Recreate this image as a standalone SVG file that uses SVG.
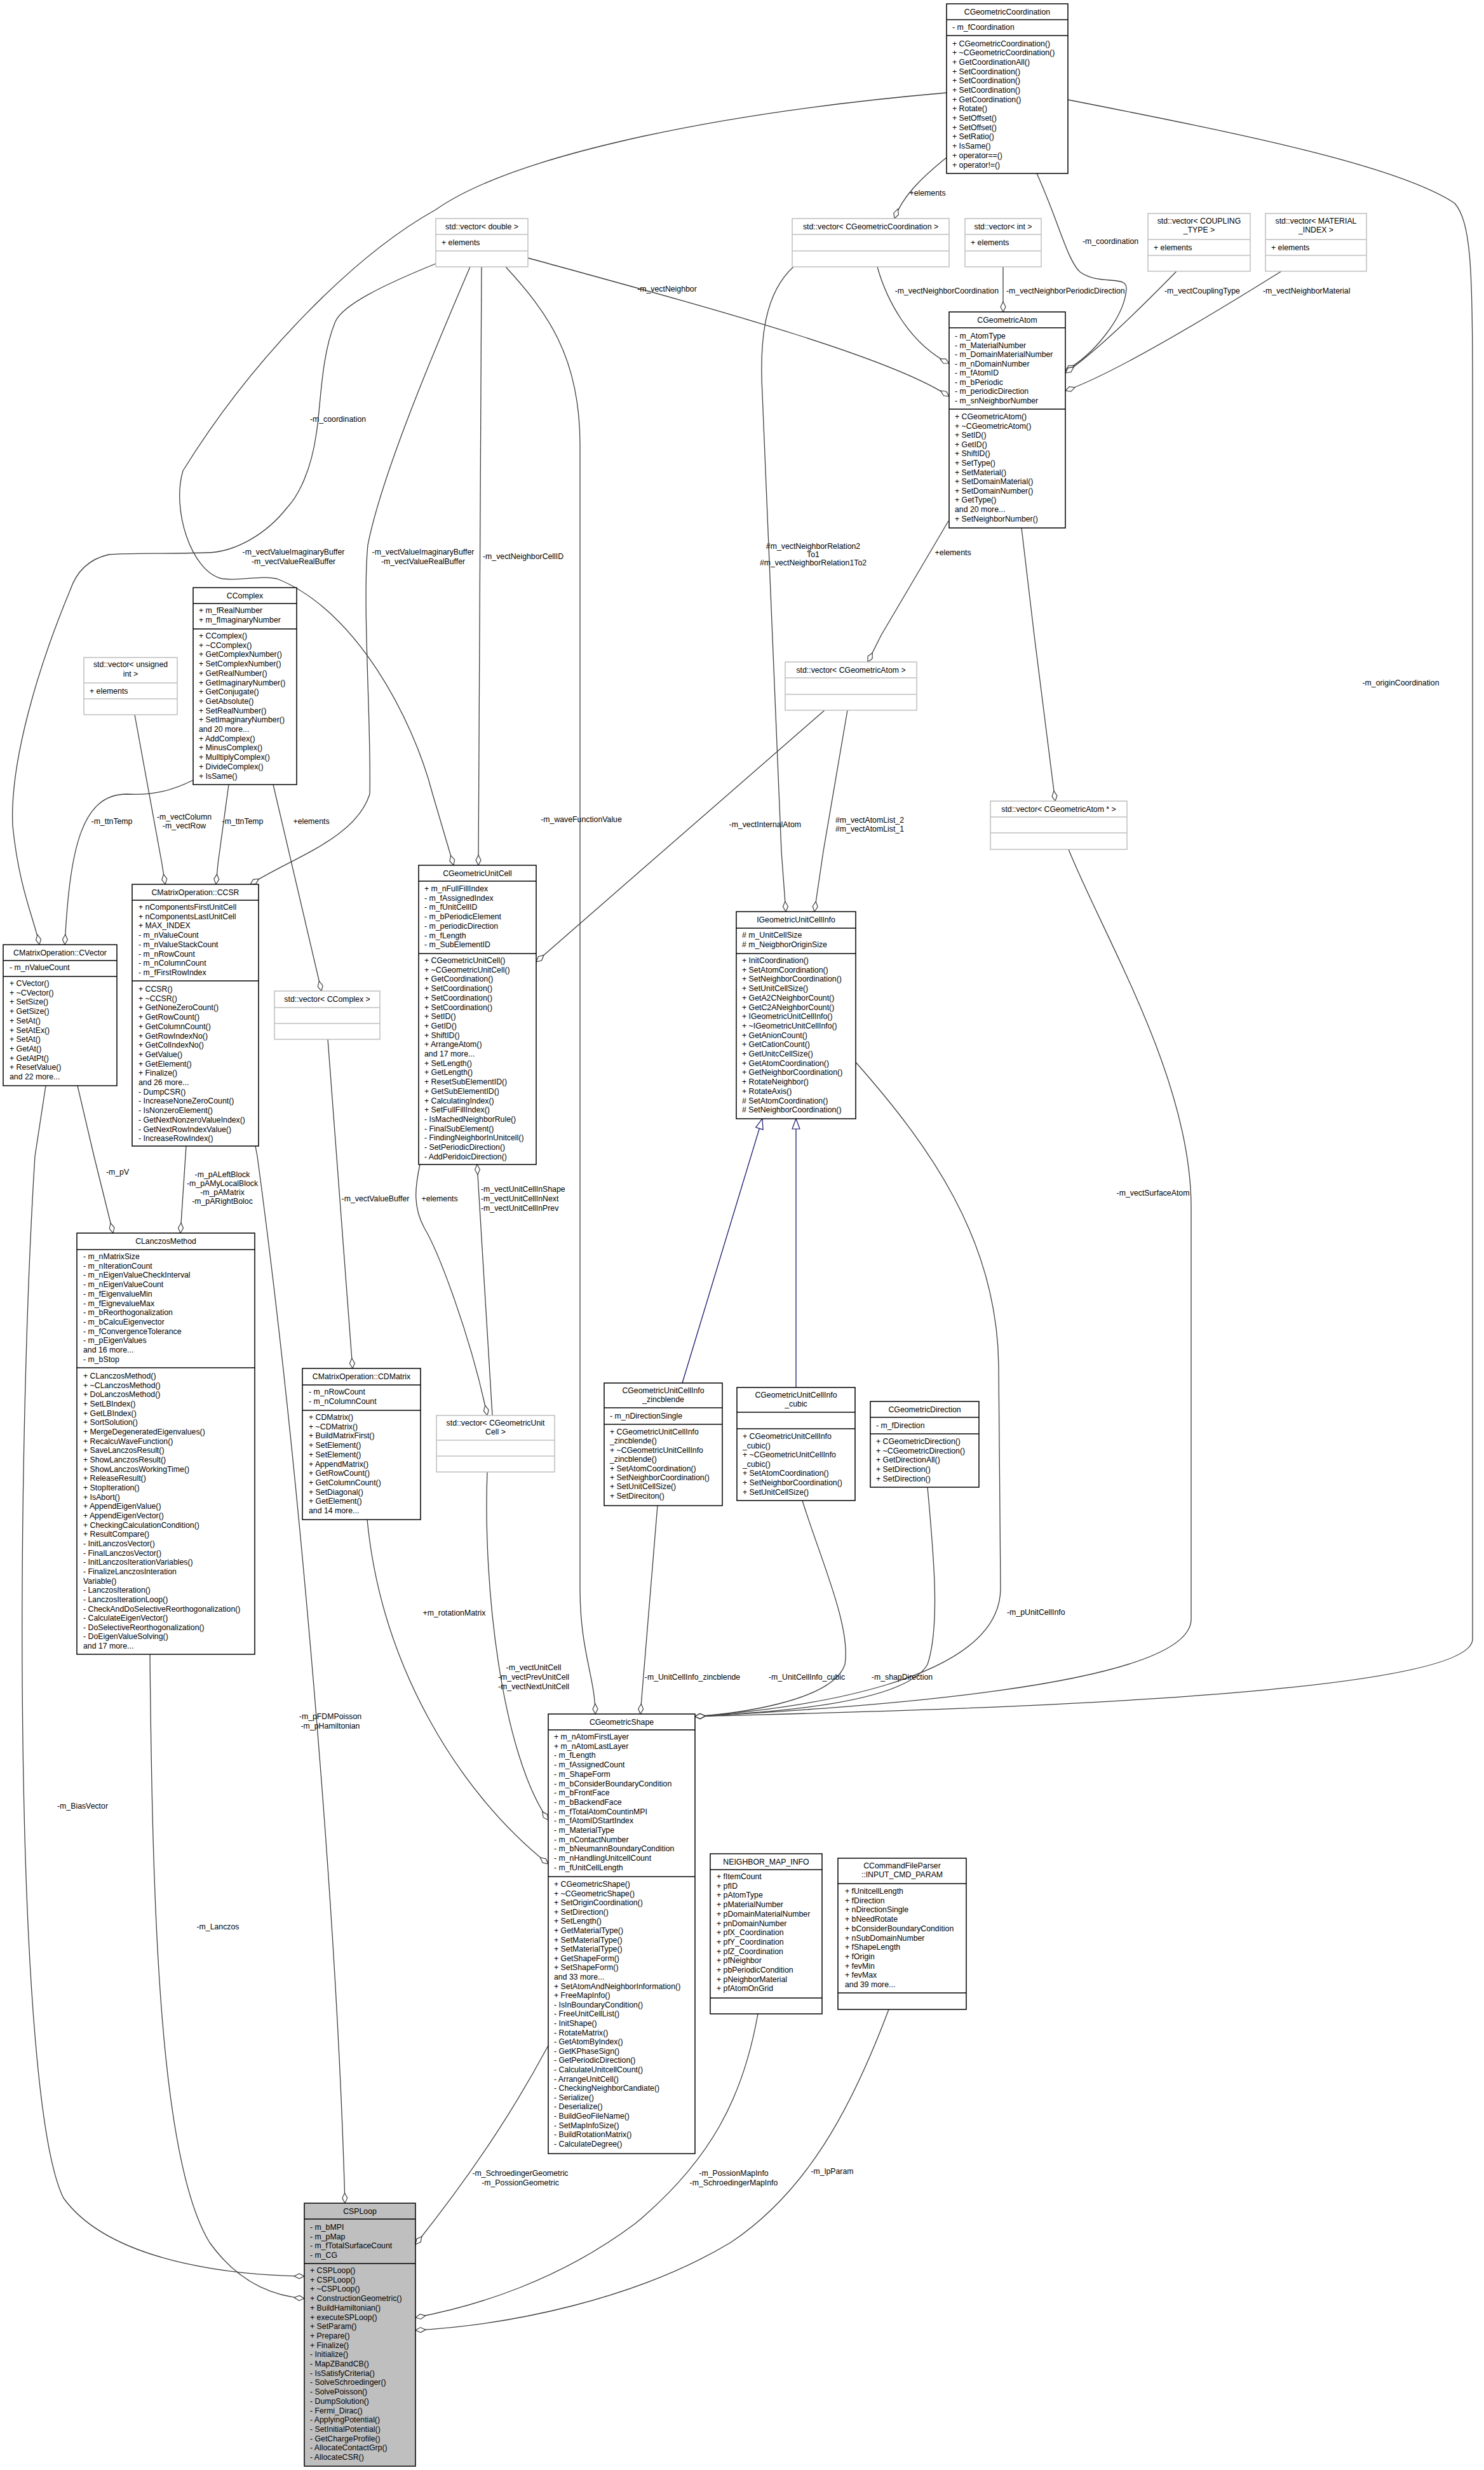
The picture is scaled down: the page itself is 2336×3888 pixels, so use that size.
<svg xmlns="http://www.w3.org/2000/svg" width="2336" height="3888" viewBox="0 0 2336 3888">
<style>
text{font-family:"Liberation Sans",Arial,sans-serif;font-size:12.3px;fill:#000}
.c{text-anchor:middle}
.m{text-anchor:middle}
.e{text-anchor:end}
.b{fill:#fff;stroke:#000;stroke-width:1.5}
.g{fill:#fff;stroke:#bfbfbf;stroke-width:1.5}
.s{fill:#bfbfbf;stroke:#000;stroke-width:1.5}
.k{stroke:#000;stroke-width:1.5}
.kg{stroke:#bfbfbf;stroke-width:1.5}
#edges path{fill:none;stroke:#404040;stroke-width:1.3}
#edges path.d{marker-end:url(#dia)}
#edges path.i{stroke:#191970;marker-end:url(#tri)}
</style>
<defs>
<marker id="dia" markerUnits="userSpaceOnUse" markerWidth="20" markerHeight="12" viewBox="0 0 20 12" refX="17" refY="6" orient="auto"><path d="M1,6 L9,2 L17,6 L9,10 Z" fill="#fff" stroke="#404040" stroke-width="1.2"/></marker>
<marker id="tri" markerUnits="userSpaceOnUse" markerWidth="20" markerHeight="14" viewBox="0 0 20 14" refX="17" refY="7" orient="auto"><path d="M1,1 L17,7 L1,13 Z" fill="#fff" stroke="#191970" stroke-width="1.2"/></marker>
</defs>
<rect width="2336" height="3888" fill="#fff"/>
<g id="edges">
<path class="d" d="M1632,273 C1665,345 1680,410 1700,428 C1730,450 1775,432 1773,455 C1770,500 1720,560 1677,583"/>
<path class="d" d="M1579,420 L1579,491"/>
<path class="d" d="M1852,427 C1800,480 1730,550 1677,587"/>
<path class="d" d="M2017,427 C1900,500 1750,590 1677,615"/>
<path class="d" d="M1381,420 C1395,470 1430,540 1494,572"/>
<path class="d" d="M831,406 C1100,480 1400,560 1494,624"/>
<path class="d" d="M1490,248 C1450,280 1420,310 1408,344"/>
<path class="d" d="M1490,146 C1100,180 800,250 686,330 C560,400 400,560 288,741 C270,800 300,900 350,911 C380,915 410,905 436,911 C560,960 650,1130 681,1250 L714,1362"/>
<path class="d" d="M686,415 C600,450 540,480 528,506 C505,560 505,640 498,682 C490,740 470,780 452,799 C420,840 370,870 324,870 C260,872 200,870 171,873 C140,880 120,900 110,930 C60,1050 15,1200 20,1300 C30,1400 55,1450 62,1487"/>
<path class="d" d="M740,420 C680,560 600,750 579,858 C570,950 585,1150 582,1250 C560,1320 460,1350 394,1392"/>
<path class="d" d="M758,420 L753,1362"/>
<path class="d" d="M796,420 C860,490 913,560 913,700 L913,2500 C913,2600 937,2640 937,2698"/>
<path class="d" d="M212,1125 L255,1360 L260,1392"/>
<path class="d" d="M360,1235 L343,1360 L340,1392"/>
<path class="d" d="M304,1228 C270,1245 240,1252 200,1250 C130,1250 110,1330 102,1487"/>
<path class="d" d="M430,1235 L506,1560"/>
<path class="d" d="M516,1636 L555,2154"/>
<path class="d" d="M1249,420 C1205,460 1195,530 1200,620 L1230,1340 L1237,1435"/>
<path class="d" d="M1493,820 L1387,1000 L1366,1042"/>
<path class="d" d="M1608,831 L1628,1000 L1661,1261"/>
<path class="d" d="M1298,1118 L844,1514"/>
<path class="d" d="M1334,1118 L1296,1340 L1282,1435"/>
<path class="d" d="M661,1833 C653,1870 650,1900 668,1933 C690,1970 740,2100 767,2228"/>
<path class="d" d="M775,2228 L751,1833"/>
<path class="i" d="M1074,2177 L1200,1761"/>
<path class="i" d="M1253,2184 L1253,1761"/>
<path class="d" d="M1347,1672 C1460,1800 1570,1950 1572,2150 L1575,2500 C1575,2650 1250,2690 1094,2702"/>
<path class="d" d="M1682,1337 C1740,1480 1875,1700 1875,1900 L1875,2550 C1870,2660 1300,2690 1094,2702"/>
<path class="d" d="M1681,157 C1950,210 2200,260 2290,320 C2315,350 2318,420 2318,600 L2318,2580 C2318,2680 1300,2695 1094,2702"/>
<path class="d" d="M1263,2362 C1290,2450 1340,2560 1330,2620 C1310,2680 1150,2698 1094,2702"/>
<path class="d" d="M1460,2341 C1470,2450 1480,2560 1460,2620 C1420,2690 1150,2698 1094,2702"/>
<path class="d" d="M1035,2370 L1008,2698"/>
<path class="d" d="M767,2317 C760,2500 790,2760 863,2865"/>
<path class="d" d="M578,2392 C600,2620 720,2820 863,2934"/>
<path class="d" d="M863,3220 C820,3300 760,3400 654,3533"/>
<path class="d" d="M1193,3170 C1170,3300 1120,3400 1000,3500 C880,3590 750,3630 654,3648"/>
<path class="d" d="M1399,3163 C1340,3320 1270,3450 1150,3530 C1000,3620 800,3660 654,3668"/>
<path class="d" d="M122,1709 L148,1820 L178,1941"/>
<path class="d" d="M293,1804 L284,1941"/>
<path class="d" d="M72,1709 L55,1820 C25,2300 20,3300 100,3460 C180,3570 400,3582 479,3583"/>
<path class="d" d="M236,2604 C240,3000 250,3400 330,3530 C380,3600 440,3615 479,3618"/>
<path class="d" d="M402,1804 L405,1820 C470,2300 530,3000 543,3468"/>
<text class="m" x="532" y="664">-m_coordination</text>
<text class="m" x="462" y="873">-m_vectValueImaginaryBuffer</text>
<text class="m" x="462" y="888">-m_vectValueRealBuffer</text>
<text class="m" x="666" y="873">-m_vectValueImaginaryBuffer</text>
<text class="m" x="666" y="888">-m_vectValueRealBuffer</text>
<text x="760" y="880">-m_vectNeighborCellID</text>
<text class="m" x="1050" y="459">-m_vectNeighbor</text>
<text class="m" x="1460" y="308">+elements</text>
<text class="m" x="1748" y="384">-m_coordination</text>
<text class="e" x="1572" y="462">-m_vectNeighborCoordination</text>
<text x="1584" y="462">-m_vectNeighborPeriodicDirection</text>
<text x="1833" y="462">-m_vectCouplingType</text>
<text x="1988" y="462">-m_vectNeighborMaterial</text>
<text class="m" x="1280" y="864">#m_vectNeighborRelation2</text>
<text class="m" x="1280" y="877">To1</text>
<text class="m" x="1280" y="890">#m_vectNeighborRelation1To2</text>
<text class="m" x="1500" y="874">+elements</text>
<text class="m" x="2205" y="1079">-m_originCoordination</text>
<text class="m" x="176" y="1297">-m_ttnTemp</text>
<text class="m" x="290" y="1290">-m_vectColumn</text>
<text class="m" x="290" y="1304">-m_vectRow</text>
<text class="m" x="382" y="1297">-m_ttnTemp</text>
<text class="m" x="490" y="1297">+elements</text>
<text class="e" x="1261" y="1302">-m_vectInternalAtom</text>
<text x="1315" y="1295">#m_vectAtomList_2</text>
<text x="1315" y="1309">#m_vectAtomList_1</text>
<text class="m" x="915" y="1294">-m_waveFunctionValue</text>
<text class="m" x="591" y="1891">-m_vectValueBuffer</text>
<text class="m" x="692" y="1891">+elements</text>
<text x="757" y="1876">-m_vectUnitCellInShape</text>
<text x="757" y="1891">-m_vectUnitCellInNext</text>
<text x="757" y="1906">-m_vectUnitCellInPrev</text>
<text class="m" x="1815" y="1882">-m_vectSurfaceAtom</text>
<text class="m" x="185" y="1849">-m_pV</text>
<text class="m" x="350" y="1853">-m_pALeftBlock</text>
<text class="m" x="350" y="1867">-m_pAMyLocalBlock</text>
<text class="m" x="350" y="1881">-m_pAMatrix</text>
<text class="m" x="350" y="1895">-m_pARightBoloc</text>
<text x="1585" y="2542">-m_pUnitCellInfo</text>
<text class="m" x="715" y="2543">+m_rotationMatrix</text>
<text class="m" x="840" y="2629">-m_vectUnitCell</text>
<text class="m" x="840" y="2644">-m_vectPrevUnitCell</text>
<text class="m" x="840" y="2659">-m_vectNextUnitCell</text>
<text class="m" x="1090" y="2644">-m_UnitCellInfo_zincblende</text>
<text class="m" x="1270" y="2644">-m_UnitCellInfo_cubic</text>
<text class="m" x="1420" y="2644">-m_shapDirection</text>
<text class="m" x="130" y="2847">-m_BiasVector</text>
<text class="m" x="520" y="2706">-m_pFDMPoisson</text>
<text class="m" x="520" y="2721">-m_pHamiltonian</text>
<text class="m" x="343" y="3037">-m_Lanczos</text>
<text class="m" x="819" y="3425">-m_SchroedingerGeometric</text>
<text class="m" x="819" y="3440">-m_PossionGeometric</text>
<text class="m" x="1155" y="3425">-m_PossionMapInfo</text>
<text class="m" x="1155" y="3440">-m_SchroedingerMapInfo</text>
<text class="m" x="1310" y="3422">-m_lpParam</text>
</g>

<g id="CGeometricCoordination"><rect class="b" x="1490" y="6" width="191" height="267"/><line class="k" x1="1490" y1="31" x2="1681" y2="31"/><line class="k" x1="1490" y1="56" x2="1681" y2="56"/>
<text class="c" x="1585.5" y="23">CGeometricCoordination</text><text x="1499" y="47">- m_fCoordination</text>
<text y="72.5"><tspan x="1499">+ CGeometricCoordination()</tspan><tspan x="1499" dy="14.7">+ ~CGeometricCoordination()</tspan><tspan x="1499" dy="14.7">+ GetCoordinationAll()</tspan><tspan x="1499" dy="14.7">+ SetCoordination()</tspan><tspan x="1499" dy="14.7">+ SetCoordination()</tspan><tspan x="1499" dy="14.7">+ SetCoordination()</tspan><tspan x="1499" dy="14.7">+ GetCoordination()</tspan><tspan x="1499" dy="14.7">+ Rotate()</tspan><tspan x="1499" dy="14.7">+ SetOffset()</tspan><tspan x="1499" dy="14.7">+ SetOffset()</tspan><tspan x="1499" dy="14.7">+ SetRatio()</tspan><tspan x="1499" dy="14.7">+ IsSame()</tspan><tspan x="1499" dy="14.7">+ operator==()</tspan><tspan x="1499" dy="14.7">+ operator!=()</tspan></text></g>

<g id="vector_double"><rect class="g" x="686" y="344" width="145" height="76"/><line class="kg" x1="686" y1="369" x2="831" y2="369"/><line class="kg" x1="686" y1="395" x2="831" y2="395"/>
<text class="c" x="758.5" y="361">std::vector&lt; double &gt;</text><text x="695" y="386">+ elements</text></g>

<g id="vector_CGeometricCoordination"><rect class="g" x="1247" y="344" width="247" height="76"/><line class="kg" x1="1247" y1="369" x2="1494" y2="369"/><line class="kg" x1="1247" y1="395" x2="1494" y2="395"/>
<text class="c" x="1370.5" y="361">std::vector&lt; CGeometricCoordination &gt;</text></g>

<g id="vector_int"><rect class="g" x="1519" y="344" width="120" height="76"/><line class="kg" x1="1519" y1="369" x2="1639" y2="369"/><line class="kg" x1="1519" y1="395" x2="1639" y2="395"/>
<text class="c" x="1579" y="361">std::vector&lt; int &gt;</text><text x="1528" y="386">+ elements</text></g>

<g id="vector_COUPLING_TYPE"><rect class="g" x="1807" y="336" width="161" height="91"/><line class="kg" x1="1807" y1="377" x2="1968" y2="377"/><line class="kg" x1="1807" y1="402" x2="1968" y2="402"/>
<text class="c" x="1887.5" y="352">std::vector&lt; COUPLING</text><text class="c" x="1887.5" y="366">_TYPE &gt;</text><text x="1816" y="394">+ elements</text></g>

<g id="vector_MATERIAL_INDEX"><rect class="g" x="1992" y="336" width="159" height="91"/><line class="kg" x1="1992" y1="377" x2="2151" y2="377"/><line class="kg" x1="1992" y1="402" x2="2151" y2="402"/>
<text class="c" x="2071.5" y="352">std::vector&lt; MATERIAL</text><text class="c" x="2071.5" y="366">_INDEX &gt;</text><text x="2001" y="394">+ elements</text></g>

<g id="CGeometricAtom"><rect class="b" x="1494" y="491" width="183" height="340"/><line class="k" x1="1494" y1="516" x2="1677" y2="516"/><line class="k" x1="1494" y1="644" x2="1677" y2="644"/>
<text class="c" x="1585.5" y="508">CGeometricAtom</text>
<text y="533"><tspan x="1503">- m_AtomType</tspan><tspan x="1503" dy="14.5">- m_MaterialNumber</tspan><tspan x="1503" dy="14.5">- m_DomainMaterialNumber</tspan><tspan x="1503" dy="14.5">- m_nDomainNumber</tspan><tspan x="1503" dy="14.5">- m_fAtomID</tspan><tspan x="1503" dy="14.5">- m_bPeriodic</tspan><tspan x="1503" dy="14.5">- m_periodicDirection</tspan><tspan x="1503" dy="14.5">- m_snNeighborNumber</tspan></text>
<text y="660"><tspan x="1503">+ CGeometricAtom()</tspan><tspan x="1503" dy="14.6">+ ~CGeometricAtom()</tspan><tspan x="1503" dy="14.6">+ SetID()</tspan><tspan x="1503" dy="14.6">+ GetID()</tspan><tspan x="1503" dy="14.6">+ ShiftID()</tspan><tspan x="1503" dy="14.6">+ SetType()</tspan><tspan x="1503" dy="14.6">+ SetMaterial()</tspan><tspan x="1503" dy="14.6">+ SetDomainMaterial()</tspan><tspan x="1503" dy="14.6">+ SetDomainNumber()</tspan><tspan x="1503" dy="14.6">+ GetType()</tspan><tspan x="1503" dy="14.6">and 20 more...</tspan><tspan x="1503" dy="14.6">+ SetNeighborNumber()</tspan></text></g>

<g id="CComplex"><rect class="b" x="304" y="925" width="163" height="310"/><line class="k" x1="304" y1="950" x2="467" y2="950"/><line class="k" x1="304" y1="990" x2="467" y2="990"/>
<text class="c" x="385.5" y="942">CComplex</text>
<text y="965"><tspan x="313">+ m_fRealNumber</tspan><tspan x="313" dy="14.7">+ m_fImaginaryNumber</tspan></text>
<text y="1005"><tspan x="313">+ CComplex()</tspan><tspan x="313" dy="14.7">+ ~CComplex()</tspan><tspan x="313" dy="14.7">+ GetComplexNumber()</tspan><tspan x="313" dy="14.7">+ SetComplexNumber()</tspan><tspan x="313" dy="14.7">+ GetRealNumber()</tspan><tspan x="313" dy="14.7">+ GetImaginaryNumber()</tspan><tspan x="313" dy="14.7">+ GetConjugate()</tspan><tspan x="313" dy="14.7">+ GetAbsolute()</tspan><tspan x="313" dy="14.7">+ SetRealNumber()</tspan><tspan x="313" dy="14.7">+ SetImaginaryNumber()</tspan><tspan x="313" dy="14.7">and 20 more...</tspan><tspan x="313" dy="14.7">+ AddComplex()</tspan><tspan x="313" dy="14.7">+ MinusComplex()</tspan><tspan x="313" dy="14.7">+ MulltiplyComplex()</tspan><tspan x="313" dy="14.7">+ DivideComplex()</tspan><tspan x="313" dy="14.7">+ IsSame()</tspan></text></g>

<g id="vector_unsigned_int"><rect class="g" x="132" y="1035" width="147" height="90"/><line class="kg" x1="132" y1="1075" x2="279" y2="1075"/><line class="kg" x1="132" y1="1100" x2="279" y2="1100"/>
<text class="c" x="205.5" y="1050">std::vector&lt; unsigned</text><text class="c" x="205.5" y="1065">int &gt;</text><text x="141" y="1092">+ elements</text></g>

<g id="vector_CGeometricAtom"><rect class="g" x="1236" y="1042" width="207" height="76"/><line class="kg" x1="1236" y1="1067" x2="1443" y2="1067"/><line class="kg" x1="1236" y1="1093" x2="1443" y2="1093"/>
<text class="c" x="1339.5" y="1059">std::vector&lt; CGeometricAtom &gt;</text></g>

<g id="vector_CGeometricAtom_ptr"><rect class="g" x="1559" y="1261" width="215" height="76"/><line class="kg" x1="1559" y1="1286" x2="1774" y2="1286"/><line class="kg" x1="1559" y1="1311" x2="1774" y2="1311"/>
<text class="c" x="1666.5" y="1278">std::vector&lt; CGeometricAtom * &gt;</text></g>

<g id="CCSR"><rect class="b" x="208" y="1392" width="199" height="412"/><line class="k" x1="208" y1="1417" x2="407" y2="1417"/><line class="k" x1="208" y1="1544" x2="407" y2="1544"/>
<text class="c" x="307.5" y="1409">CMatrixOperation::CCSR</text>
<text y="1432"><tspan x="218">+ nComponentsFirstUnitCell</tspan><tspan x="218" dy="14.7">+ nComponentsLastUnitCell</tspan><tspan x="218" dy="14.7">+ MAX_INDEX</tspan><tspan x="218" dy="14.7">- m_nValueCount</tspan><tspan x="218" dy="14.7">- m_nValueStackCount</tspan><tspan x="218" dy="14.7">- m_nRowCount</tspan><tspan x="218" dy="14.7">- m_nColumnCount</tspan><tspan x="218" dy="14.7">- m_fFirstRowIndex</tspan></text>
<text y="1561"><tspan x="218">+ CCSR()</tspan><tspan x="218" dy="14.7">+ ~CCSR()</tspan><tspan x="218" dy="14.7">+ GetNoneZeroCount()</tspan><tspan x="218" dy="14.7">+ GetRowCount()</tspan><tspan x="218" dy="14.7">+ GetColumnCount()</tspan><tspan x="218" dy="14.7">+ GetRowIndexNo()</tspan><tspan x="218" dy="14.7">+ GetColIndexNo()</tspan><tspan x="218" dy="14.7">+ GetValue()</tspan><tspan x="218" dy="14.7">+ GetElement()</tspan><tspan x="218" dy="14.7">+ Finalize()</tspan><tspan x="218" dy="14.7">and 26 more...</tspan><tspan x="218" dy="14.7">- DumpCSR()</tspan><tspan x="218" dy="14.7">- IncreaseNoneZeroCount()</tspan><tspan x="218" dy="14.7">- IsNonzeroElement()</tspan><tspan x="218" dy="14.7">- GetNextNonzeroValueIndex()</tspan><tspan x="218" dy="14.7">- GetNextRowIndexValue()</tspan><tspan x="218" dy="14.7">- IncreaseRowIndex()</tspan></text></g>

<g id="CVector"><rect class="b" x="5" y="1487" width="179" height="222"/><line class="k" x1="5" y1="1512" x2="184" y2="1512"/><line class="k" x1="5" y1="1537" x2="184" y2="1537"/>
<text class="c" x="94.5" y="1504">CMatrixOperation::CVector</text><text x="15" y="1527">- m_nValueCount</text>
<text y="1552"><tspan x="15">+ CVector()</tspan><tspan x="15" dy="14.7">+ ~CVector()</tspan><tspan x="15" dy="14.7">+ SetSize()</tspan><tspan x="15" dy="14.7">+ GetSize()</tspan><tspan x="15" dy="14.7">+ SetAt()</tspan><tspan x="15" dy="14.7">+ SetAtEx()</tspan><tspan x="15" dy="14.7">+ SetAt()</tspan><tspan x="15" dy="14.7">+ GetAt()</tspan><tspan x="15" dy="14.7">+ GetAtPt()</tspan><tspan x="15" dy="14.7">+ ResetValue()</tspan><tspan x="15" dy="14.7">and 22 more...</tspan></text></g>

<g id="CGeometricUnitCell"><rect class="b" x="659" y="1362" width="185" height="471"/><line class="k" x1="659" y1="1387" x2="844" y2="1387"/><line class="k" x1="659" y1="1501" x2="844" y2="1501"/>
<text class="c" x="751.5" y="1379">CGeometricUnitCell</text>
<text y="1403"><tspan x="668">+ m_nFullFillIndex</tspan><tspan x="668" dy="14.7">- m_fAssignedIndex</tspan><tspan x="668" dy="14.7">- m_fUnitCellID</tspan><tspan x="668" dy="14.7">- m_bPeriodicElement</tspan><tspan x="668" dy="14.7">- m_periodicDirection</tspan><tspan x="668" dy="14.7">- m_fLength</tspan><tspan x="668" dy="14.7">- m_SubElementID</tspan></text>
<text y="1516"><tspan x="668">+ CGeometricUnitCell()</tspan><tspan x="668" dy="14.7">+ ~CGeometricUnitCell()</tspan><tspan x="668" dy="14.7">+ GetCoordination()</tspan><tspan x="668" dy="14.7">+ SetCoordination()</tspan><tspan x="668" dy="14.7">+ SetCoordination()</tspan><tspan x="668" dy="14.7">+ SetCoordination()</tspan><tspan x="668" dy="14.7">+ SetID()</tspan><tspan x="668" dy="14.7">+ GetID()</tspan><tspan x="668" dy="14.7">+ ShiftID()</tspan><tspan x="668" dy="14.7">+ ArrangeAtom()</tspan><tspan x="668" dy="14.7">and 17 more...</tspan><tspan x="668" dy="14.7">+ SetLength()</tspan><tspan x="668" dy="14.7">+ GetLength()</tspan><tspan x="668" dy="14.7">+ ResetSubElementID()</tspan><tspan x="668" dy="14.7">+ GetSubElementID()</tspan><tspan x="668" dy="14.7">+ CalculatingIndex()</tspan><tspan x="668" dy="14.7">+ SetFullFillIndex()</tspan><tspan x="668" dy="14.7">- IsMachedNeighborRule()</tspan><tspan x="668" dy="14.7">- FinalSubElement()</tspan><tspan x="668" dy="14.7">- FindingNeighborInUnitcell()</tspan><tspan x="668" dy="14.7">- SetPeriodicDirection()</tspan><tspan x="668" dy="14.7">- AddPeridoicDirection()</tspan></text></g>

<g id="IGeometricUnitCellInfo"><rect class="b" x="1159" y="1435" width="188" height="326"/><line class="k" x1="1159" y1="1461" x2="1347" y2="1461"/><line class="k" x1="1159" y1="1501" x2="1347" y2="1501"/>
<text class="c" x="1253" y="1452">IGeometricUnitCellInfo</text>
<text y="1476"><tspan x="1168"># m_UnitCellSize</tspan><tspan x="1168" dy="14.7"># m_NeigbhorOriginSize</tspan></text>
<text y="1516"><tspan x="1168">+ InitCoordination()</tspan><tspan x="1168" dy="14.7">+ SetAtomCoordination()</tspan><tspan x="1168" dy="14.7">+ SetNeighborCoordination()</tspan><tspan x="1168" dy="14.7">+ SetUnitCellSize()</tspan><tspan x="1168" dy="14.7">+ GetA2CNeighborCount()</tspan><tspan x="1168" dy="14.7">+ GetC2ANeighborCount()</tspan><tspan x="1168" dy="14.7">+ IGeometricUnitCellInfo()</tspan><tspan x="1168" dy="14.7">+ ~IGeometricUnitCellInfo()</tspan><tspan x="1168" dy="14.7">+ GetAnionCount()</tspan><tspan x="1168" dy="14.7">+ GetCationCount()</tspan><tspan x="1168" dy="14.7">+ GetUnitcCellSize()</tspan><tspan x="1168" dy="14.7">+ GetAtomCoordination()</tspan><tspan x="1168" dy="14.7">+ GetNeighborCoordination()</tspan><tspan x="1168" dy="14.7">+ RotateNeighbor()</tspan><tspan x="1168" dy="14.7">+ RotateAxis()</tspan><tspan x="1168" dy="14.7"># SetAtomCoordination()</tspan><tspan x="1168" dy="14.7"># SetNeighborCoordination()</tspan></text></g>

<g id="vector_CComplex"><rect class="g" x="432" y="1560" width="166" height="76"/><line class="kg" x1="432" y1="1586" x2="598" y2="1586"/><line class="kg" x1="432" y1="1611" x2="598" y2="1611"/>
<text class="c" x="515" y="1577">std::vector&lt; CComplex &gt;</text></g>

<g id="CLanczosMethod"><rect class="b" x="121" y="1941" width="280" height="663"/><line class="k" x1="121" y1="1967" x2="401" y2="1967"/><line class="k" x1="121" y1="2153" x2="401" y2="2153"/>
<text class="c" x="261" y="1958">CLanczosMethod</text>
<text y="1982"><tspan x="131">- m_nMatrixSize</tspan><tspan x="131" dy="14.7">- m_nIterationCount</tspan><tspan x="131" dy="14.7">- m_nEigenValueCheckInterval</tspan><tspan x="131" dy="14.7">- m_nEigenValueCount</tspan><tspan x="131" dy="14.7">- m_fEigenvalueMin</tspan><tspan x="131" dy="14.7">- m_fEignevalueMax</tspan><tspan x="131" dy="14.7">- m_bReorthogonalization</tspan><tspan x="131" dy="14.7">- m_bCalcuEigenvector</tspan><tspan x="131" dy="14.7">- m_fConvergenceTolerance</tspan><tspan x="131" dy="14.7">- m_pEigenValues</tspan><tspan x="131" dy="14.7">and 16 more...</tspan><tspan x="131" dy="14.7">- m_bStop</tspan></text>
<text y="2170"><tspan x="131">+ CLanczosMethod()</tspan><tspan x="131" dy="14.66">+ ~CLanczosMethod()</tspan><tspan x="131" dy="14.66">+ DoLanczosMethod()</tspan><tspan x="131" dy="14.66">+ SetLBIndex()</tspan><tspan x="131" dy="14.66">+ GetLBIndex()</tspan><tspan x="131" dy="14.66">+ SortSolution()</tspan><tspan x="131" dy="14.66">+ MergeDegeneratedEigenvalues()</tspan><tspan x="131" dy="14.66">+ RecalcuWaveFunction()</tspan><tspan x="131" dy="14.66">+ SaveLanczosResult()</tspan><tspan x="131" dy="14.66">+ ShowLanczosResult()</tspan><tspan x="131" dy="14.66">+ ShowLanczosWorkingTime()</tspan><tspan x="131" dy="14.66">+ ReleaseResult()</tspan><tspan x="131" dy="14.66">+ StopIteration()</tspan><tspan x="131" dy="14.66">+ IsAbort()</tspan><tspan x="131" dy="14.66">+ AppendEigenValue()</tspan><tspan x="131" dy="14.66">+ AppendEigenVector()</tspan><tspan x="131" dy="14.66">+ CheckingCalculationCondition()</tspan><tspan x="131" dy="14.66">+ ResultCompare()</tspan><tspan x="131" dy="14.66">- InitLanczosVector()</tspan><tspan x="131" dy="14.66">- FinalLanczosVector()</tspan><tspan x="131" dy="14.66">- InitLanczosIterationVariables()</tspan><tspan x="131" dy="14.66">- FinalizeLanczosInteration</tspan><tspan x="131" dy="14.66">Variable()</tspan><tspan x="131" dy="14.66">- LanczosIteration()</tspan><tspan x="131" dy="14.66">- LanczosIterationLoop()</tspan><tspan x="131" dy="14.66">- CheckAndDoSelectiveReorthogonalization()</tspan><tspan x="131" dy="14.66">- CalculateEigenVector()</tspan><tspan x="131" dy="14.66">- DoSelectiveReorthogonalization()</tspan><tspan x="131" dy="14.66">- DoEigenValueSolving()</tspan><tspan x="131" dy="14.66">and 17 more...</tspan></text></g>

<g id="CDMatrix"><rect class="b" x="476" y="2154" width="186" height="238"/><line class="k" x1="476" y1="2180" x2="662" y2="2180"/><line class="k" x1="476" y1="2220" x2="662" y2="2220"/>
<text class="c" x="569" y="2171">CMatrixOperation::CDMatrix</text>
<text y="2195"><tspan x="486">- m_nRowCount</tspan><tspan x="486" dy="14.7">- m_nColumnCount</tspan></text>
<text y="2235"><tspan x="486">+ CDMatrix()</tspan><tspan x="486" dy="14.7">+ ~CDMatrix()</tspan><tspan x="486" dy="14.7">+ BuildMatrixFirst()</tspan><tspan x="486" dy="14.7">+ SetElement()</tspan><tspan x="486" dy="14.7">+ SetElement()</tspan><tspan x="486" dy="14.7">+ AppendMatrix()</tspan><tspan x="486" dy="14.7">+ GetRowCount()</tspan><tspan x="486" dy="14.7">+ GetColumnCount()</tspan><tspan x="486" dy="14.7">+ SetDiagonal()</tspan><tspan x="486" dy="14.7">+ GetElement()</tspan><tspan x="486" dy="14.7">and 14 more...</tspan></text></g>

<g id="vector_CGeometricUnitCell"><rect class="g" x="687" y="2228" width="186" height="89"/><line class="kg" x1="687" y1="2267" x2="873" y2="2267"/><line class="kg" x1="687" y1="2292" x2="873" y2="2292"/>
<text class="c" x="780" y="2244">std::vector&lt; CGeometricUnit</text><text class="c" x="780" y="2258">Cell &gt;</text></g>

<g id="CGeometricUnitCellInfo_zincblende"><rect class="b" x="951" y="2177" width="186" height="193"/><line class="k" x1="951" y1="2216" x2="1137" y2="2216"/><line class="k" x1="951" y1="2242" x2="1137" y2="2242"/>
<text class="c" x="1044" y="2193">CGeometricUnitCellInfo</text><text class="c" x="1044" y="2207">_zincblende</text>
<text x="960" y="2233">- m_nDirectionSingle</text>
<text y="2258"><tspan x="960">+ CGeometricUnitCellInfo</tspan><tspan x="960" dy="14.4">_zincblende()</tspan><tspan x="960" dy="14.4">+ ~CGeometricUnitCellInfo</tspan><tspan x="960" dy="14.4">_zincblende()</tspan><tspan x="960" dy="14.4">+ SetAtomCoordination()</tspan><tspan x="960" dy="14.4">+ SetNeighborCoordination()</tspan><tspan x="960" dy="14.4">+ SetUnitCellSize()</tspan><tspan x="960" dy="14.4">+ SetDireciton()</tspan></text></g>

<g id="CGeometricUnitCellInfo_cubic"><rect class="b" x="1160" y="2184" width="186" height="178"/><line class="k" x1="1160" y1="2223" x2="1346" y2="2223"/><line class="k" x1="1160" y1="2249" x2="1346" y2="2249"/>
<text class="c" x="1253" y="2200">CGeometricUnitCellInfo</text><text class="c" x="1253" y="2214">_cubic</text>
<text y="2265"><tspan x="1169">+ CGeometricUnitCellInfo</tspan><tspan x="1169" dy="14.6">_cubic()</tspan><tspan x="1169" dy="14.6">+ ~CGeometricUnitCellInfo</tspan><tspan x="1169" dy="14.6">_cubic()</tspan><tspan x="1169" dy="14.6">+ SetAtomCoordination()</tspan><tspan x="1169" dy="14.6">+ SetNeighborCoordination()</tspan><tspan x="1169" dy="14.6">+ SetUnitCellSize()</tspan></text></g>

<g id="CGeometricDirection"><rect class="b" x="1370" y="2206" width="171" height="135"/><line class="k" x1="1370" y1="2231" x2="1541" y2="2231"/><line class="k" x1="1370" y1="2257" x2="1541" y2="2257"/>
<text class="c" x="1455.5" y="2223">CGeometricDirection</text><text x="1379" y="2248">- m_fDirection</text>
<text y="2273"><tspan x="1379">+ CGeometricDirection()</tspan><tspan x="1379" dy="14.7">+ ~CGeometricDirection()</tspan><tspan x="1379" dy="14.7">+ GetDirectionAll()</tspan><tspan x="1379" dy="14.7">+ SetDirection()</tspan><tspan x="1379" dy="14.7">+ SetDirection()</tspan></text></g>

<g id="CGeometricShape"><rect class="b" x="863" y="2698" width="231" height="692"/><line class="k" x1="863" y1="2723" x2="1094" y2="2723"/><line class="k" x1="863" y1="2954" x2="1094" y2="2954"/>
<text class="c" x="978.5" y="2715">CGeometricShape</text>
<text y="2738"><tspan x="872">+ m_nAtomFirstLayer</tspan><tspan x="872" dy="14.7">+ m_nAtomLastLayer</tspan><tspan x="872" dy="14.7">- m_fLength</tspan><tspan x="872" dy="14.7">- m_fAssignedCount</tspan><tspan x="872" dy="14.7">- m_ShapeForm</tspan><tspan x="872" dy="14.7">- m_bConsiderBoundaryCondition</tspan><tspan x="872" dy="14.7">- m_bFrontFace</tspan><tspan x="872" dy="14.7">- m_bBackendFace</tspan><tspan x="872" dy="14.7">- m_fTotalAtomCountinMPI</tspan><tspan x="872" dy="14.7">- m_fAtomIDStartIndex</tspan><tspan x="872" dy="14.7">- m_MaterialType</tspan><tspan x="872" dy="14.7">- m_nContactNumber</tspan><tspan x="872" dy="14.7">- m_bNeumannBoundaryCondition</tspan><tspan x="872" dy="14.7">- m_nHandlingUnitcellCount</tspan><tspan x="872" dy="14.7">- m_fUnitCellLength</tspan></text>
<text y="2970"><tspan x="872">+ CGeometricShape()</tspan><tspan x="872" dy="14.6">+ ~CGeometricShape()</tspan><tspan x="872" dy="14.6">+ SetOriginCoordination()</tspan><tspan x="872" dy="14.6">+ SetDirection()</tspan><tspan x="872" dy="14.6">+ SetLength()</tspan><tspan x="872" dy="14.6">+ GetMaterialType()</tspan><tspan x="872" dy="14.6">+ SetMaterialType()</tspan><tspan x="872" dy="14.6">+ SetMaterialType()</tspan><tspan x="872" dy="14.6">+ GetShapeForm()</tspan><tspan x="872" dy="14.6">+ SetShapeForm()</tspan><tspan x="872" dy="14.6">and 33 more...</tspan><tspan x="872" dy="14.6">+ SetAtomAndNeighborInformation()</tspan><tspan x="872" dy="14.6">+ FreeMapInfo()</tspan><tspan x="872" dy="14.6">- IsInBoundaryCondition()</tspan><tspan x="872" dy="14.6">- FreeUnitCellList()</tspan><tspan x="872" dy="14.6">- InitShape()</tspan><tspan x="872" dy="14.6">- RotateMatrix()</tspan><tspan x="872" dy="14.6">- GetAtomByIndex()</tspan><tspan x="872" dy="14.6">- GetKPhaseSign()</tspan><tspan x="872" dy="14.6">- GetPeriodicDirection()</tspan><tspan x="872" dy="14.6">- CalculateUnitcellCount()</tspan><tspan x="872" dy="14.6">- ArrangeUnitCell()</tspan><tspan x="872" dy="14.6">- CheckingNeighborCandiate()</tspan><tspan x="872" dy="14.6">- Serialize()</tspan><tspan x="872" dy="14.6">- Deserialize()</tspan><tspan x="872" dy="14.6">- BuildGeoFileName()</tspan><tspan x="872" dy="14.6">- SetMapInfoSize()</tspan><tspan x="872" dy="14.6">- BuildRotationMatrix()</tspan><tspan x="872" dy="14.6">- CalculateDegree()</tspan></text></g>

<g id="NEIGHBOR_MAP_INFO"><rect class="b" x="1118" y="2918" width="176" height="252"/><line class="k" x1="1118" y1="2943" x2="1294" y2="2943"/><line class="k" x1="1118" y1="3145" x2="1294" y2="3145"/>
<text class="c" x="1206" y="2935">NEIGHBOR_MAP_INFO</text>
<text y="2958"><tspan x="1128">+ fItemCount</tspan><tspan x="1128" dy="14.7">+ pfID</tspan><tspan x="1128" dy="14.7">+ pAtomType</tspan><tspan x="1128" dy="14.7">+ pMaterialNumber</tspan><tspan x="1128" dy="14.7">+ pDomainMaterialNumber</tspan><tspan x="1128" dy="14.7">+ pnDomainNumber</tspan><tspan x="1128" dy="14.7">+ pfX_Coordination</tspan><tspan x="1128" dy="14.7">+ pfY_Coordination</tspan><tspan x="1128" dy="14.7">+ pfZ_Coordination</tspan><tspan x="1128" dy="14.7">+ pfNeighbor</tspan><tspan x="1128" dy="14.7">+ pbPeriodicCondition</tspan><tspan x="1128" dy="14.7">+ pNeighborMaterial</tspan><tspan x="1128" dy="14.7">+ pfAtomOnGrid</tspan></text></g>

<g id="INPUT_CMD_PARAM"><rect class="b" x="1319" y="2925" width="202" height="238"/><line class="k" x1="1319" y1="2965" x2="1521" y2="2965"/><line class="k" x1="1319" y1="3137" x2="1521" y2="3137"/>
<text class="c" x="1420" y="2941">CCommandFileParser</text><text class="c" x="1420" y="2955">::INPUT_CMD_PARAM</text>
<text y="2981"><tspan x="1330">+ fUnitcellLength</tspan><tspan x="1330" dy="14.7">+ fDirection</tspan><tspan x="1330" dy="14.7">+ nDirectionSingle</tspan><tspan x="1330" dy="14.7">+ bNeedRotate</tspan><tspan x="1330" dy="14.7">+ bConsiderBoundaryCondition</tspan><tspan x="1330" dy="14.7">+ nSubDomainNumber</tspan><tspan x="1330" dy="14.7">+ fShapeLength</tspan><tspan x="1330" dy="14.7">+ fOrigin</tspan><tspan x="1330" dy="14.7">+ fevMin</tspan><tspan x="1330" dy="14.7">+ fevMax</tspan><tspan x="1330" dy="14.7">and 39 more...</tspan></text></g>

<g id="CSPLoop"><rect class="s" x="479" y="3468" width="175" height="414"/><line class="k" x1="479" y1="3493" x2="654" y2="3493"/><line class="k" x1="479" y1="3563" x2="654" y2="3563"/>
<text class="c" x="566.5" y="3485">CSPLoop</text>
<text y="3510"><tspan x="488">- m_bMPI</tspan><tspan x="488" dy="14.7">- m_pMap</tspan><tspan x="488" dy="14.7">- m_fTotalSurfaceCount</tspan><tspan x="488" dy="14.7">- m_CG</tspan></text>
<text y="3578"><tspan x="488">+ CSPLoop()</tspan><tspan x="488" dy="14.7">+ CSPLoop()</tspan><tspan x="488" dy="14.7">+ ~CSPLoop()</tspan><tspan x="488" dy="14.7">+ ConstructionGeometric()</tspan><tspan x="488" dy="14.7">+ BuildHamiltonian()</tspan><tspan x="488" dy="14.7">+ executeSPLoop()</tspan><tspan x="488" dy="14.7">+ SetParam()</tspan><tspan x="488" dy="14.7">+ Prepare()</tspan><tspan x="488" dy="14.7">+ Finalize()</tspan><tspan x="488" dy="14.7">- Initialize()</tspan><tspan x="488" dy="14.7">- MapZBandCB()</tspan><tspan x="488" dy="14.7">- IsSatisfyCriteria()</tspan><tspan x="488" dy="14.7">- SolveSchroedinger()</tspan><tspan x="488" dy="14.7">- SolvePoisson()</tspan><tspan x="488" dy="14.7">- DumpSolution()</tspan><tspan x="488" dy="14.7">- Fermi_Dirac()</tspan><tspan x="488" dy="14.7">- ApplyingPotential()</tspan><tspan x="488" dy="14.7">- SetInitialPotential()</tspan><tspan x="488" dy="14.7">- GetChargeProfile()</tspan><tspan x="488" dy="14.7">- AllocateContactGrp()</tspan><tspan x="488" dy="14.7">- AllocateCSR()</tspan></text></g>
</svg>
